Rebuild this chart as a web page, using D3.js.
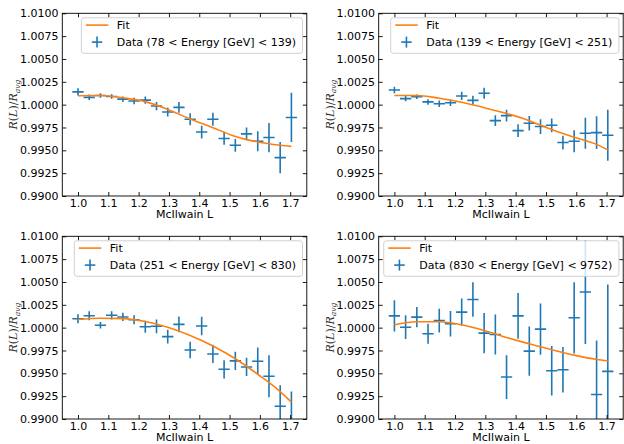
<!DOCTYPE html>
<meta charset="utf-8">
<style>
body { margin: 0; background: #fff; }
svg { font-family: "DejaVu Sans", sans-serif; }
.axis text { font: 11px "DejaVu Sans", sans-serif; fill: #000; }
.axis line { stroke: #000; stroke-width: 0.9; }
.legend text { font: 11px "DejaVu Sans", sans-serif; }
</style>
<body>
<script src="https://d3js.org/d3.v7.min.js"></script>
<script>

// McIlwain L bin centres (same for every energy bin)
var L = [1.000, 1.037, 1.074, 1.111, 1.148, 1.185, 1.222, 1.259, 1.296, 1.333,
         1.370, 1.408, 1.445, 1.482, 1.519, 1.556, 1.593, 1.630, 1.667, 1.704];
var binHalf = 0.0186;

var energyBins = ["78 < Energy [GeV] < 139", "139 < Energy [GeV] < 251",
                  "251 < Energy [GeV] < 830", "830 < Energy [GeV] < 9752"];

// R(L)/R_avg and its error, one pair per energy bin
var ratio78 = [1.0014, 1.0008, 1.0010, 1.0009, 1.0006, 1.0004, 1.0005, 0.99985, 0.9992, 0.9997,
               0.9984, 0.9970, 0.9984, 0.9963, 0.99555, 0.9968, 0.9960, 0.9964, 0.9942, 0.9986];
var err78 = [0.0004, 0.0003, 0.00025, 0.00025, 0.0003, 0.00035, 0.0004, 0.00045, 0.0005, 0.0006,
             0.00065, 0.0007, 0.0007, 0.0007, 0.0007, 0.0007, 0.0011, 0.0016, 0.0017, 0.0027];

var ratio139 = [1.0016, 1.00066, 1.00087, 1.0003, 1.0001, 1.0002, 1.00095, 1.00047, 1.00124, 0.99825,
                0.9988, 0.99716, 0.99796, 0.9976, 0.99774, 0.99585, 0.99599, 0.99687, 0.99694, 0.99665];
var err139 = [0.00035, 0.0003, 0.00025, 0.0003, 0.00035, 0.00035, 0.00045, 0.0005, 0.0006, 0.0006,
              0.00065, 0.0007, 0.0008, 0.0008, 0.00075, 0.00075, 0.0012, 0.0017, 0.0018, 0.0028];

var ratio251 = [1.00098, 1.0013, 1.00026, 1.00135, 1.00117, 1.00087, 1.0001, 1.00015, 0.99902, 1.00036,
                0.99756, 1.00018, 0.99712, 0.99544, 0.99636, 0.9957, 0.99632, 0.99468, 0.9914, 0.9899];
var err251 = [0.0005, 0.0005, 0.00035, 0.00045, 0.00045, 0.0005, 0.00065, 0.00075, 0.00075, 0.00085,
              0.0009, 0.001, 0.001, 0.001, 0.001, 0.001, 0.0015, 0.0023, 0.0023, 0.0031];

var ratio830 = [1.00129, 1.00005, 1.00115, 0.99933, 1.00078, 1.00042, 1.0017, 1.00308, 0.9994, 0.99925,
                0.99459, 1.00129, 0.99743, 0.99984, 0.99528, 0.99539, 1.00108, 1.0039, 0.99269, 0.99521];
var err830 = [0.0017, 0.0013, 0.0011, 0.0011, 0.0013, 0.0014, 0.0015, 0.0019, 0.0022, 0.0022,
              0.0024, 0.0025, 0.0027, 0.0028, 0.0027, 0.0025, 0.0039, 0.0057, 0.0059, 0.0095];

// fit curves, read at a few L values
var fitL = [1.000, 1.074, 1.148, 1.222, 1.296, 1.370, 1.445, 1.519, 1.593, 1.667, 1.704];
var fit78  = [1.00098, 1.0010, 1.00075, 1.00033, 0.99948, 0.99843, 0.99748, 0.99652, 0.99592, 0.99556, 0.99543];
var fit139 = [1.0010, 1.0010, 1.0007, 1.00027, 0.99967, 0.99903, 0.99825, 0.99728, 0.99643, 0.99565, 0.99505];
var fit251 = [1.0009, 1.00103, 1.00099, 1.00067, 1.00005, 0.99915, 0.9980, 0.9966, 0.9949, 0.9930, 0.99185];
var fit830 = [1.00031, 1.00064, 1.00064, 1.00031, 0.99969, 0.99892, 0.99823, 0.99758, 0.99699, 0.99652, 0.99637];

var xTicks = [1.0, 1.1, 1.2, 1.3, 1.4, 1.5, 1.6, 1.7];
var yTicks = [0.99, 0.9925, 0.995, 0.9975, 1.0, 1.0025, 1.005, 1.0075, 1.01];

var pw = 244.5, ph = 182.7;
var panels = [
  {left: 62.3,  top: 13.3,  ratio: ratio78,  err: err78,  fit: fit78,  label: energyBins[0]},
  {left: 378.7, top: 13.3,  ratio: ratio139, err: err139, fit: fit139, label: energyBins[1]},
  {left: 62.3,  top: 236.3, ratio: ratio251, err: err251, fit: fit251, label: energyBins[2]},
  {left: 378.7, top: 236.3, ratio: ratio830, err: err830, fit: fit830, label: energyBins[3]}
];

var blue = "#1f77b4", orange = "#ff7f0e";

var svg = d3.select("body").append("svg")
    .attr("width", 624)
    .attr("height", 444);

panels.forEach(function(p, i) {
  var x = d3.scaleLinear().domain([0.9482, 1.7548]).range([0, pw]);
  var y = d3.scaleLinear().domain([0.99, 1.01]).range([ph, 0]);

  var g = svg.append("g").attr("transform", "translate(" + p.left + "," + p.top + ")");

  g.append("clipPath").attr("id", "clip" + i)
    .append("rect").attr("width", pw).attr("height", ph);

  var plot = g.append("g").attr("clip-path", "url(#clip" + i + ")");

  var pts = plot.selectAll("g.pt")
      .data(L.map(function(l, j) { return {l: l, r: p.ratio[j], e: p.err[j]}; }))
    .enter().append("g")
      .attr("class", "pt");

  pts.append("line")
      .attr("x1", function(d) { return x(d.l); })
      .attr("x2", function(d) { return x(d.l); })
      .attr("y1", function(d) { return y(d.r - d.e); })
      .attr("y2", function(d) { return y(d.r + d.e); })
      .attr("stroke", blue).attr("stroke-width", 1.6);
  pts.append("line")
      .attr("x1", function(d) { return x(d.l - binHalf); })
      .attr("x2", function(d) { return x(d.l + binHalf); })
      .attr("y1", function(d) { return y(d.r); })
      .attr("y2", function(d) { return y(d.r); })
      .attr("stroke", blue).attr("stroke-width", 1.6);

  var line = d3.line()
      .x(function(d) { return x(d[0]); })
      .y(function(d) { return y(d[1]); })
      .curve(d3.curveMonotoneX);

  plot.append("path")
      .datum(fitL.map(function(l, j) { return [l, p.fit[j]]; }))
      .attr("d", line)
      .attr("fill", "none")
      .attr("stroke", orange)
      .attr("stroke-width", 1.6);

  // axes, ticks pointing inward on all four sides
  g.append("g").attr("class", "axis")
      .attr("transform", "translate(0," + ph + ")")
      .call(d3.axisBottom(x).tickValues(xTicks).tickFormat(d3.format(".1f"))
            .tickSizeInner(-4).tickSizeOuter(0).tickPadding(3.2))
      .call(function(a) { a.select(".domain").remove(); });
  g.append("g").attr("class", "axis")
      .call(d3.axisTop(x).tickValues(xTicks).tickFormat("")
            .tickSizeInner(-4).tickSizeOuter(0))
      .call(function(a) { a.select(".domain").remove(); });
  g.append("g").attr("class", "axis")
      .call(d3.axisLeft(y).tickValues(yTicks).tickFormat(d3.format(".4f"))
            .tickSizeInner(-4).tickSizeOuter(0).tickPadding(3.8))
      .call(function(a) { a.select(".domain").remove(); });
  g.append("g").attr("class", "axis")
      .attr("transform", "translate(" + pw + ",0)")
      .call(d3.axisRight(y).tickValues(yTicks).tickFormat("")
            .tickSizeInner(-4).tickSizeOuter(0))
      .call(function(a) { a.select(".domain").remove(); });

  g.append("rect")
      .attr("width", pw).attr("height", ph)
      .attr("fill", "none").attr("stroke", "#000").attr("stroke-width", 0.9);

  g.append("text")
      .attr("x", pw / 2).attr("y", ph + 22)
      .attr("text-anchor", "middle")
      .style("font-size", "11px")
      .text("McIlwain L");

  var yl = g.append("text")
      .attr("transform", "translate(-45," + (ph / 2) + ") rotate(-90)")
      .attr("text-anchor", "middle")
      .attr("fill", "#333")
      .style("font-family", "'DejaVu Serif', serif")
      .style("font-style", "italic")
      .style("font-size", "11px");
  yl.append("tspan").text("R");
  yl.append("tspan").style("font-style", "normal").text("(");
  yl.append("tspan").text("L");
  yl.append("tspan").style("font-style", "normal").text(")/");
  yl.append("tspan").text("R");
  yl.append("tspan").attr("dy", 2.5).style("font-size", "7.5px").text("avg");

  // legend
  var lg = g.append("g").attr("class", "legend");
  var box = lg.append("rect");
  var t1 = lg.append("text").text("Fit");
  var t2 = lg.append("text").text("Data (" + p.label + ")");
  var tw = t2.node().getComputedTextLength();
  var bw = 35.5 + tw + 6.5, bh = 35.5;
  var bx = pw - 4.3 - bw, by = 4.5;

  box.attr("x", bx).attr("y", by).attr("width", bw).attr("height", bh)
      .attr("rx", 2.5)
      .attr("fill", "#fff").attr("fill-opacity", 0.8)
      .attr("stroke", "#ccc").attr("stroke-width", 0.9);

  lg.append("line")
      .attr("x1", bx + 4.5).attr("x2", bx + 27)
      .attr("y1", by + 7.3).attr("y2", by + 7.3)
      .attr("stroke", orange).attr("stroke-width", 1.6);
  lg.append("line")
      .attr("x1", bx + 10.5).attr("x2", bx + 21)
      .attr("y1", by + 24.3).attr("y2", by + 24.3)
      .attr("stroke", blue).attr("stroke-width", 1.6);
  lg.append("line")
      .attr("x1", bx + 15.7).attr("x2", bx + 15.7)
      .attr("y1", by + 18.8).attr("y2", by + 29.8)
      .attr("stroke", blue).attr("stroke-width", 1.6);

  t1.attr("x", bx + 35.5).attr("y", by + 7.3).attr("dy", "0.36em");
  t2.attr("x", bx + 35.5).attr("y", by + 24.3).attr("dy", "0.36em");
});

</script>
